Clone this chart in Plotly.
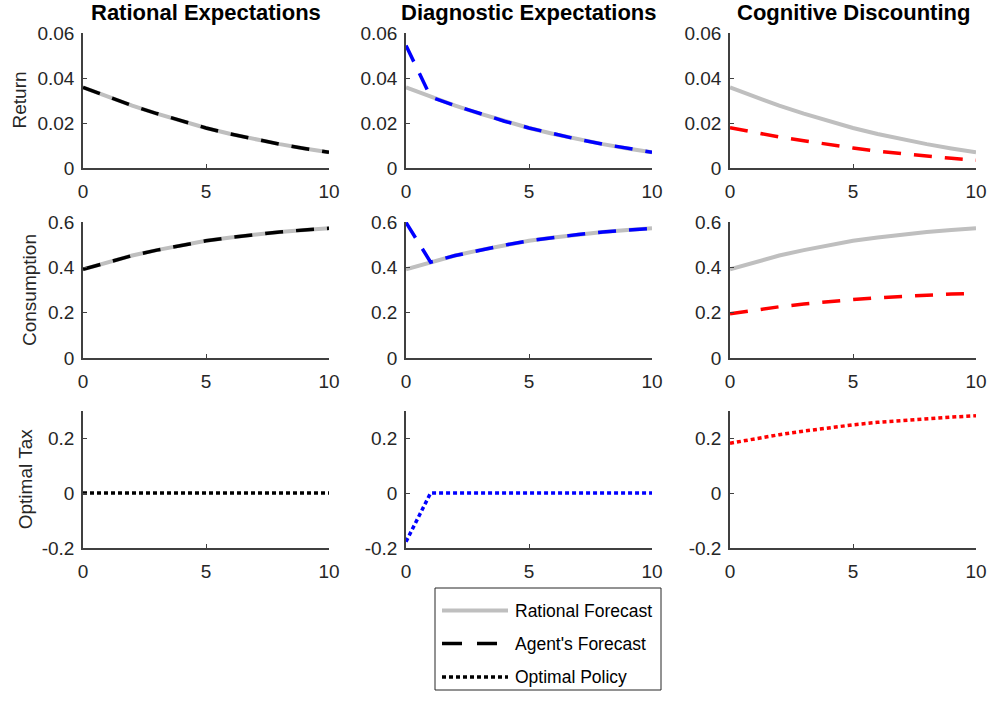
import plotly.graph_objects as go
from plotly.subplots import make_subplots

# ---------------- data ----------------
periods = [0, 1, 2, 3, 4, 5, 6, 7, 8, 9, 10]

col_titles = ["Rational Expectations", "Diagnostic Expectations", "Cognitive Discounting"]
row_titles = ["Return", "Consumption", "Optimal Tax"]

return_rational = [0.0358, 0.0316, 0.0277, 0.0242, 0.0208, 0.0178, 0.0151, 0.0127, 0.0106, 0.0087, 0.0070]
return_agent_re = [0.0358, 0.0316, 0.0277, 0.0242, 0.0208, 0.0178, 0.0151, 0.0127, 0.0106, 0.0087, 0.0070]
return_agent_de = [0.0545, 0.0316, 0.0277, 0.0242, 0.0208, 0.0178, 0.0151, 0.0127, 0.0106, 0.0087, 0.0070]
return_agent_cd = [0.0179, 0.0158, 0.0138, 0.0121, 0.0104, 0.0089, 0.0075, 0.0063, 0.0053, 0.0043, 0.0035]

cons_rational = [0.391, 0.423, 0.452, 0.476, 0.498, 0.517, 0.532, 0.545, 0.556, 0.565, 0.572]
cons_agent_re = [0.391, 0.423, 0.452, 0.476, 0.498, 0.517, 0.532, 0.545, 0.556, 0.565, 0.572]
cons_agent_de = [0.598, 0.423, 0.452, 0.476, 0.498, 0.517, 0.532, 0.545, 0.556, 0.565, 0.572]
cons_agent_cd = [0.195, 0.211, 0.226, 0.238, 0.249, 0.258, 0.266, 0.272, 0.278, 0.282, 0.285]

tax_re = [0, 0, 0, 0, 0, 0, 0, 0, 0, 0, 0]
tax_de = [-0.177, 0, 0, 0, 0, 0, 0, 0, 0, 0, 0]
tax_cd = [0.181, 0.197, 0.212, 0.225, 0.237, 0.248, 0.257, 0.264, 0.271, 0.276, 0.281]

y_ranges = [[0, 0.06], [0, 0.6], [-0.2, 0.3]]
y_ticks = [[0, 0.02, 0.04, 0.06], [0, 0.2, 0.4, 0.6], [-0.2, 0, 0.2]]
y_ticktext = [["0", "0.02", "0.04", "0.06"], ["0", "0.2", "0.4", "0.6"], ["-0.2", "0", "0.2"]]
x_ticks = [0, 5, 10]

legend_labels = ["Rational Forecast", "Agent's Forecast", "Optimal Policy"]

# ---------------- styles ----------------
col_colors = ["#000000", "#0000ff", "#ff0000"]
gray = "#bfbfbf"
dash_style = "18px,13px"
dot_style = "4px,3px"
FONT = "Liberation Sans, Arial, Helvetica, sans-serif"
axis_col = "#404040"
text_col = "#262626"

W, H = 992, 702
x_dom_px = [(83, 329), (406, 652), (730, 976)]
y_dom_px = [(33, 168), (222, 358), (410.5, 548)]

fig = make_subplots(rows=3, cols=3)

returns_agent = [return_agent_re, return_agent_de, return_agent_cd]
cons_agent = [cons_agent_re, cons_agent_de, cons_agent_cd]
taxes = [tax_re, tax_de, tax_cd]

for c in range(3):
    # Row 1: return
    fig.add_trace(go.Scatter(x=periods, y=return_rational, mode="lines",
                             line=dict(color=gray, width=4), showlegend=False,
                             name="Rational Forecast"), row=1, col=c + 1)
    fig.add_trace(go.Scatter(x=periods, y=returns_agent[c], mode="lines",
                             line=dict(color=col_colors[c], width=3.5, dash=dash_style),
                             showlegend=False, name="Agent's Forecast"), row=1, col=c + 1)
    # Row 2: consumption
    fig.add_trace(go.Scatter(x=periods, y=cons_rational, mode="lines",
                             line=dict(color=gray, width=4), showlegend=False,
                             name="Rational Forecast"), row=2, col=c + 1)
    fig.add_trace(go.Scatter(x=periods, y=cons_agent[c], mode="lines",
                             line=dict(color=col_colors[c], width=3.5, dash=dash_style),
                             showlegend=False, name="Agent's Forecast"), row=2, col=c + 1)
    # Row 3: tax
    fig.add_trace(go.Scatter(x=periods, y=taxes[c], mode="lines",
                             line=dict(color=col_colors[c], width=3.5, dash=dot_style),
                             showlegend=False, name="Optimal Policy"), row=3, col=c + 1)

annotations = []
for r in range(3):
    for c in range(3):
        idx = r * 3 + c + 1
        xs = "xaxis" if idx == 1 else f"xaxis{idx}"
        ys = "yaxis" if idx == 1 else f"yaxis{idx}"
        x0, x1 = x_dom_px[c]
        yt, yb = y_dom_px[r]
        fig.layout[xs].update(
            domain=[x0 / W, x1 / W], range=[0, 10], tickvals=x_ticks, automargin=False,
            showline=True, linecolor=axis_col, linewidth=1.5, ticks="inside",
            ticklen=4, tickcolor=axis_col, tickwidth=1, showgrid=False, zeroline=False,
            tickfont=dict(family=FONT, size=19, color=text_col), fixedrange=True,
            ticklabelstandoff=5,
        )
        fig.layout[ys].update(
            domain=[1 - yb / H, 1 - yt / H], range=y_ranges[r], tickvals=y_ticks[r],
            ticktext=y_ticktext[r], automargin=False,
            showline=True, linecolor=axis_col, linewidth=1.5, ticks="inside",
            ticklen=4, tickcolor=axis_col, tickwidth=1, showgrid=False, zeroline=False,
            tickfont=dict(family=FONT, size=19, color=text_col), fixedrange=True,
            ticklabelstandoff=3,
        )

# column titles
for c in range(3):
    x0, x1 = x_dom_px[c]
    annotations.append(dict(text=f"<b>{col_titles[c]}</b>", x=(x0 + x1) / 2 / W, y=1 - 13 / H,
                            xref="paper", yref="paper", showarrow=False, xanchor="center",
                            yanchor="middle", font=dict(family=FONT, size=22, color="#000000")))
# row labels
row_label_x = [19, 30, 25]
for r in range(3):
    yt, yb = y_dom_px[r]
    annotations.append(dict(text=row_titles[r], x=row_label_x[r] / W, y=1 - (yt + yb) / 2 / H,
                            xref="paper", yref="paper", showarrow=False, textangle=-90,
                            xanchor="center", yanchor="middle",
                            font=dict(family=FONT, size=19, color=text_col)))

# legend box (drawn manually to match long line samples)
lx0, lx1, ly0, ly1 = 435, 661, 588, 690
shapes = [dict(type="rect", xref="paper", yref="paper", x0=lx0 / W, x1=lx1 / W,
               y0=1 - ly1 / H, y1=1 - ly0 / H, line=dict(color="#262626", width=1),
               fillcolor="white")]
legend_styles = [dict(color=gray, width=4), dict(color="#000000", width=3.5, dash="20px,15px"),
                 dict(color="#000000", width=3.5, dash=dot_style)]
legend_rows = [610.5, 643.5, 677]
for i, lab in enumerate(legend_labels):
    yy = 1 - legend_rows[i] / H
    shapes.append(dict(type="line", xref="paper", yref="paper", x0=442 / W, x1=508 / W,
                       y0=yy, y1=yy, line=legend_styles[i]))
    annotations.append(dict(text=lab, x=513 / W, y=yy, xref="paper", yref="paper",
                            showarrow=False, xanchor="left", yanchor="middle",
                            font=dict(family=FONT, size=17.5, color="#000000")))

fig.update_layout(
    width=W, height=H, margin=dict(l=0, r=0, t=0, b=0, autoexpand=False),
    paper_bgcolor="white", plot_bgcolor="white", showlegend=False,
    annotations=annotations, shapes=shapes,
)

fig.write_html("out.html", config={"displayModeBar": False},
               post_script="document.body.style.margin='0';document.body.style.overflow='hidden';")
